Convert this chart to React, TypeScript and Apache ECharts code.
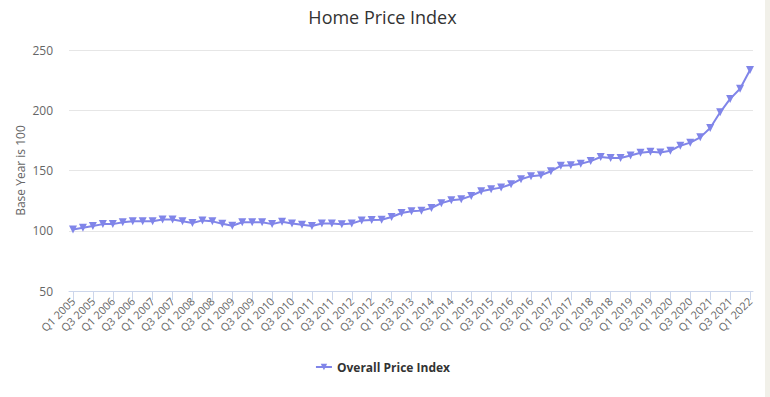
import React, { useEffect, useRef } from "react";
import * as echarts from "echarts";

const categories: string[] = [
  "Q1 2005", "Q2 2005", "Q3 2005", "Q4 2005",
  "Q1 2006", "Q2 2006", "Q3 2006", "Q4 2006",
  "Q1 2007", "Q2 2007", "Q3 2007", "Q4 2007",
  "Q1 2008", "Q2 2008", "Q3 2008", "Q4 2008",
  "Q1 2009", "Q2 2009", "Q3 2009", "Q4 2009",
  "Q1 2010", "Q2 2010", "Q3 2010", "Q4 2010",
  "Q1 2011", "Q2 2011", "Q3 2011", "Q4 2011",
  "Q1 2012", "Q2 2012", "Q3 2012", "Q4 2012",
  "Q1 2013", "Q2 2013", "Q3 2013", "Q4 2013",
  "Q1 2014", "Q2 2014", "Q3 2014", "Q4 2014",
  "Q1 2015", "Q2 2015", "Q3 2015", "Q4 2015",
  "Q1 2016", "Q2 2016", "Q3 2016", "Q4 2016",
  "Q1 2017", "Q2 2017", "Q3 2017", "Q4 2017",
  "Q1 2018", "Q2 2018", "Q3 2018", "Q4 2018",
  "Q1 2019", "Q2 2019", "Q3 2019", "Q4 2019",
  "Q1 2020", "Q2 2020", "Q3 2020", "Q4 2020",
  "Q1 2021", "Q2 2021", "Q3 2021", "Q4 2021",
  "Q1 2022",
];

const overallPriceIndex: number[] = [
  101, 102.5, 104, 105.5, 105.5, 107, 107.8, 107.8,
  107.8, 109.4, 109.4, 107.8, 106.4, 108.6, 107.8, 105.8,
  104.2, 107, 107, 107, 105.5, 107.5, 106, 105,
  103.9, 106, 106, 105.3, 106, 108.6, 108.9, 109.2,
  111.4, 114.7, 116.1, 116.7, 118.9, 122.9, 125.3, 126.1,
  128.9, 132.8, 134.4, 135.8, 138.6, 142.8, 145.3, 146.1,
  149.4, 153.9, 154.4, 155.6, 157.8, 161.2, 160.3, 160.3,
  162.5, 164.7, 165.6, 165, 166.4, 170.6, 173.1, 177.5,
  185.3, 198.3, 209.4, 217.8, 233.4,
];

const labelledQuarters: string[] = categories.filter((c) => c.startsWith("Q1") || c.startsWith("Q3"));

const yTicks = { min: 50, max: 250, interval: 50 };

const FONT = "'Open Sans', 'Noto Sans', sans-serif";

export default function App() {
  const ref = useRef<HTMLDivElement>(null);

  useEffect(() => {
    if (!ref.current) return;
    const chart = echarts.init(ref.current, undefined, { renderer: "svg" });
    const seriesData = overallPriceIndex.map((v, i) => [i, v]);
    const tickValues = labelledQuarters.map((q) => categories.indexOf(q));
    chart.setOption({
      animation: false,
      backgroundColor: "#ffffff",
      textStyle: { fontFamily: FONT },
      title: {
        text: "Home Price Index",
        left: "center",
        top: 3,
        textStyle: { fontFamily: FONT, fontSize: 18, fontWeight: "normal", color: "#333333" },
      },
      grid: { left: 69, right: 12, top: 50, bottom: 106 },
      xAxis: {
        type: "value",
        min: -0.4,
        max: 68.3,
        axisLine: { show: true, lineStyle: { color: "#ccd6eb", width: 1 } },
        axisTick: { show: true, length: 9, lineStyle: { color: "#ccd6eb" }, customValues: tickValues },
        splitLine: { show: false },
        axisLabel: {
          customValues: tickValues,
          rotate: 45,
          margin: 8,
          color: "#666666",
          fontSize: 11,
          fontFamily: FONT,
          formatter: (v: number) => categories[Math.round(v)] ?? "",
        },
      },
      yAxis: {
        type: "value",
        min: yTicks.min,
        max: yTicks.max,
        interval: yTicks.interval,
        name: "Base Year is 100",
        nameLocation: "middle",
        nameGap: 43,
        nameMoveOverlap: false,
        nameTextStyle: { color: "#666666", fontSize: 12, fontFamily: FONT },
        axisLine: { show: false },
        axisTick: { show: false },
        splitLine: { lineStyle: { color: "#e6e6e6", width: 1 } },
        axisLabel: { color: "#666666", fontSize: 12, margin: 16, fontFamily: FONT },
      },
      legend: {
        bottom: 19,
        left: "center",
        itemWidth: 16,
        itemHeight: 8,
        textStyle: { color: "#333333", fontSize: 12, fontWeight: "bold", fontFamily: FONT },
        data: ["Overall Price Index"],
      },
      series: [
        {
          name: "Overall Price Index",
          type: "line",
          data: seriesData,
          color: "#8085e9",
          lineStyle: { width: 2, color: "#8085e9" },
          symbol: "triangle",
          symbolRotate: 180,
          symbolSize: 8,
          showAllSymbol: true,
          itemStyle: { color: "#8085e9" },
        },
      ],
    });
    return () => chart.dispose();
  }, []);

  return (
    <div style={{ position: "absolute", left: 0, top: 0, width: 770, height: 397, background: "#f1f0e9" }}>
      <div ref={ref} style={{ width: 765, height: 397, background: "#ffffff" }} />
    </div>
  );
}
